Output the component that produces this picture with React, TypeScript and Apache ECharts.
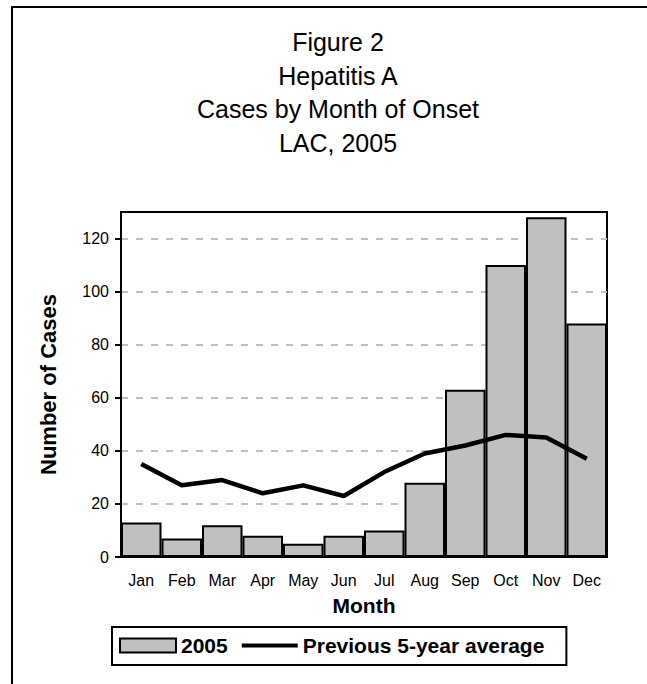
import React, { useEffect, useRef } from "react";
import * as echarts from "echarts";

const months = ["Jan", "Feb", "Mar", "Apr", "May", "Jun", "Jul", "Aug", "Sep", "Oct", "Nov", "Dec"];
const cases2005 = [13, 7, 12, 8, 5, 8, 10, 28, 63, 110, 128, 88];
const prev5yrAvg = [35, 27, 29, 24, 27, 23, 32, 39, 42, 46, 45, 37];
const yTicks = [0, 20, 40, 60, 80, 100, 120];
const titleLines = ["Figure 2", "Hepatitis A", "Cases by Month of Onset", "LAC, 2005"];

const FONT = "'Liberation Sans', Arial, Helvetica, sans-serif";

export default function App() {
  const ref = useRef<HTMLDivElement>(null);
  useEffect(() => {
    if (!ref.current) return;
    const chart = echarts.init(ref.current, null, { renderer: "svg" });
    const titleY = [42, 75.5, 109, 142.5];
    chart.setOption({
      animation: false,
      backgroundColor: "#fff",
      textStyle: { fontFamily: FONT },
      graphic: [
        {
          type: "rect",
          shape: { x: 12, y: 7, width: 720, height: 720 },
          style: { fill: "none", stroke: "#000", lineWidth: 2 },
          silent: true,
        },
        ...titleLines.map((t, i) => ({
          type: "text",
          x: 338,
          y: titleY[i],
          style: {
            text: t,
            fill: "#000",
            fontSize: 25,
            fontFamily: FONT,
            align: "center",
            verticalAlign: "middle",
          },
        })),
      ],
      grid: { left: 121, right: 40, top: 212, bottom: 127, show: true, borderColor: "#000", borderWidth: 2, backgroundColor: "transparent" },
      legend: {
        left: 112,
        top: 627,
        orient: "horizontal",
        borderColor: "#000",
        borderWidth: 2,
        padding: [8, 22, 9, 7],
        itemWidth: 56,
        itemHeight: 14,
        itemGap: 12,
        textStyle: { fontSize: 21, fontWeight: "bold", color: "#000", fontFamily: FONT },
        data: [
          { name: "2005", icon: "rect" },
          {
            name: "Previous 5-year average",
            itemStyle: { opacity: 0 },
            lineStyle: { width: 4, color: "#000" },
          },
        ],
      },
      xAxis: {
        type: "category",
        data: months,
        boundaryGap: true,
        axisLine: { show: true, lineStyle: { color: "#000", width: 2 } },
        axisTick: { show: false },
        axisLabel: { fontSize: 16, color: "#000", margin: 15, fontFamily: FONT },
        name: "Month",
        nameLocation: "middle",
        nameGap: 38,
        nameTextStyle: { fontSize: 21, fontWeight: "bold", color: "#000", fontFamily: FONT },
        splitLine: { show: false },
      },
      yAxis: {
        type: "value",
        min: 0,
        max: 130,
        interval: 20,
        axisLine: { show: true, lineStyle: { color: "#000", width: 2 } },
        axisTick: { show: true, length: 6, lineStyle: { color: "#000", width: 2 }, customValues: yTicks },
        axisLabel: { fontSize: 16, color: "#000", margin: 12, fontFamily: FONT, customValues: yTicks },
        splitLine: { show: true, lineStyle: { color: "#c0c0c0", width: 2, type: [7, 8] } },
        name: "Number of Cases",
        nameLocation: "middle",
        nameGap: 62,
        nameTextStyle: { fontSize: 22, fontWeight: "bold", color: "#000", fontFamily: FONT },
      },
      series: [
        {
          name: "2005",
          type: "bar",
          data: cases2005,
          barCategoryGap: "0%",
          barWidth: "100%",
          itemStyle: { color: "#c0c0c0", borderColor: "#000", borderWidth: 2 },
          z: 2,
        },
        {
          name: "Previous 5-year average",
          type: "line",
          data: prev5yrAvg,
          symbol: "none",
          lineStyle: { color: "#000", width: 4.5 },
          itemStyle: { color: "#000" },
          z: 3,
        },
      ],
    });
    return () => chart.dispose();
  }, []);
  return <div ref={ref} style={{ position: "fixed", left: 0, top: 0, width: 647, height: 684 }} />;
}
